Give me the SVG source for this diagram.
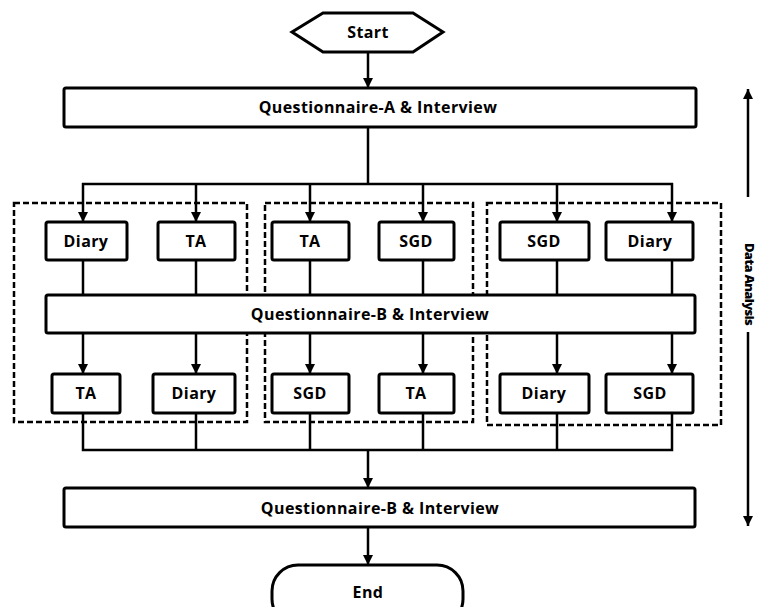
<svg xmlns="http://www.w3.org/2000/svg" width="760" height="607" viewBox="0 0 760 607">
<style>
.box{fill:#fff;stroke:#000;stroke-width:3}
.grp{fill:none;stroke:#000;stroke-width:2.5;stroke-dasharray:6 3}
.ln{fill:none;stroke:#000;stroke-width:2.5}
.t{font-family:"Open Sans","Noto Sans",sans-serif;font-weight:bold;font-size:16px;letter-spacing:0.4px;text-anchor:middle;fill:#000}
.da{font-family:"Open Sans","Noto Sans",sans-serif;font-weight:800;font-size:13px;letter-spacing:-0.7px;text-anchor:middle;fill:#000}
</style>
<defs>
<marker id="ah" viewBox="0 0 10 10" refX="10" refY="5" markerWidth="4" markerHeight="4" orient="auto" markerUnits="strokeWidth">
<path d="M0,0 L10,5 L0,10 Z" fill="#000"/>
</marker>
</defs>
<rect width="760" height="607" fill="#fff"/>
<g id="groups">
<rect class="grp" x="14" y="203" width="233" height="219"/>
<rect class="grp" x="265" y="203" width="208" height="219"/>
<rect class="grp" x="487" y="203" width="234" height="222"/>
</g>
<g id="connectors">
<line class="ln" x1="368" y1="52" x2="368" y2="88" marker-end="url(#ah)"/>
<line class="ln" x1="368" y1="127" x2="368" y2="184"/>
<line class="ln" x1="82" y1="184" x2="673" y2="184"/>
<line class="ln" x1="83" y1="183" x2="83" y2="222" marker-end="url(#ah)"/>
<line class="ln" x1="196" y1="184" x2="196" y2="222" marker-end="url(#ah)"/>
<line class="ln" x1="310" y1="184" x2="310" y2="222" marker-end="url(#ah)"/>
<line class="ln" x1="423" y1="184" x2="423" y2="222" marker-end="url(#ah)"/>
<line class="ln" x1="557" y1="184" x2="557" y2="222" marker-end="url(#ah)"/>
<line class="ln" x1="672" y1="183" x2="672" y2="222" marker-end="url(#ah)"/>
<path class="ln" d="M83,260V295M196,260V295M310,260V295M423,260V295M557,260V295M672,260V295"/>
<line class="ln" x1="83" y1="333" x2="83" y2="374" marker-end="url(#ah)"/>
<line class="ln" x1="196" y1="333" x2="196" y2="374" marker-end="url(#ah)"/>
<line class="ln" x1="310" y1="333" x2="310" y2="374" marker-end="url(#ah)"/>
<line class="ln" x1="423" y1="333" x2="423" y2="374" marker-end="url(#ah)"/>
<line class="ln" x1="557" y1="333" x2="557" y2="374" marker-end="url(#ah)"/>
<line class="ln" x1="672" y1="333" x2="672" y2="374" marker-end="url(#ah)"/>
<path class="ln" d="M83,413V450H672V413M196,413V450M310,413V450M423,413V450M557,413V450"/>
<line class="ln" x1="368" y1="450" x2="368" y2="488" marker-end="url(#ah)"/>
<line class="ln" x1="368" y1="527" x2="368" y2="565" marker-end="url(#ah)"/>
<line class="ln" x1="748" y1="197" x2="748" y2="89" marker-end="url(#ah)"/>
<line class="ln" x1="748" y1="332" x2="748" y2="526" marker-end="url(#ah)"/>
</g>
<g id="start">
<polygon class="box" points="292,32 323,13 413,13 443,32 413,52 323,52"/>
<text class="t" x="368" y="38">Start</text>
</g>
<g id="qa">
<rect class="box" x="64" y="88" width="632" height="39" rx="2"/>
<text class="t" x="378" y="113">Questionnaire-A &amp; Interview</text>
</g>
<g id="n1"><rect class="box" x="46" y="222" width="81" height="38" rx="2"/><text class="t" x="86" y="247">Diary</text></g>
<g id="n2"><rect class="box" x="158" y="222" width="77" height="38" rx="2"/><text class="t" x="196" y="247">TA</text></g>
<g id="n3"><rect class="box" x="272" y="222" width="77" height="38" rx="2"/><text class="t" x="310" y="247">TA</text></g>
<g id="n4"><rect class="box" x="379" y="222" width="75" height="38" rx="2"/><text class="t" x="416" y="247">SGD</text></g>
<g id="n5"><rect class="box" x="500" y="222" width="89" height="38" rx="2"/><text class="t" x="544" y="247">SGD</text></g>
<g id="n6"><rect class="box" x="606" y="222" width="87" height="38" rx="2"/><text class="t" x="650" y="247">Diary</text></g>
<g id="qb1">
<rect class="box" x="46" y="295" width="649" height="38" rx="2"/>
<text class="t" x="370" y="320">Questionnaire-B &amp; Interview</text>
</g>
<g id="m1"><rect class="box" x="52" y="374" width="68" height="39" rx="2"/><text class="t" x="86" y="399">TA</text></g>
<g id="m2"><rect class="box" x="153" y="374" width="82" height="39" rx="2"/><text class="t" x="194" y="399">Diary</text></g>
<g id="m3"><rect class="box" x="272" y="374" width="77" height="39" rx="2"/><text class="t" x="310" y="399">SGD</text></g>
<g id="m4"><rect class="box" x="379" y="374" width="75" height="39" rx="2"/><text class="t" x="416" y="399">TA</text></g>
<g id="m5"><rect class="box" x="500" y="374" width="89" height="39" rx="2"/><text class="t" x="544" y="399">Diary</text></g>
<g id="m6"><rect class="box" x="606" y="374" width="87" height="39" rx="2"/><text class="t" x="650" y="399">SGD</text></g>
<g id="qb2">
<rect class="box" x="64" y="488" width="631" height="39" rx="2"/>
<text class="t" x="380" y="514">Questionnaire-B &amp; Interview</text>
</g>
<g id="end">
<rect class="box" x="272" y="565" width="191" height="60" rx="26"/>
<text class="t" x="368" y="598">End</text>
</g>
<g id="da">
<text class="da" transform="translate(745,284) rotate(90)">Data Analysis</text>
</g>
</svg>
